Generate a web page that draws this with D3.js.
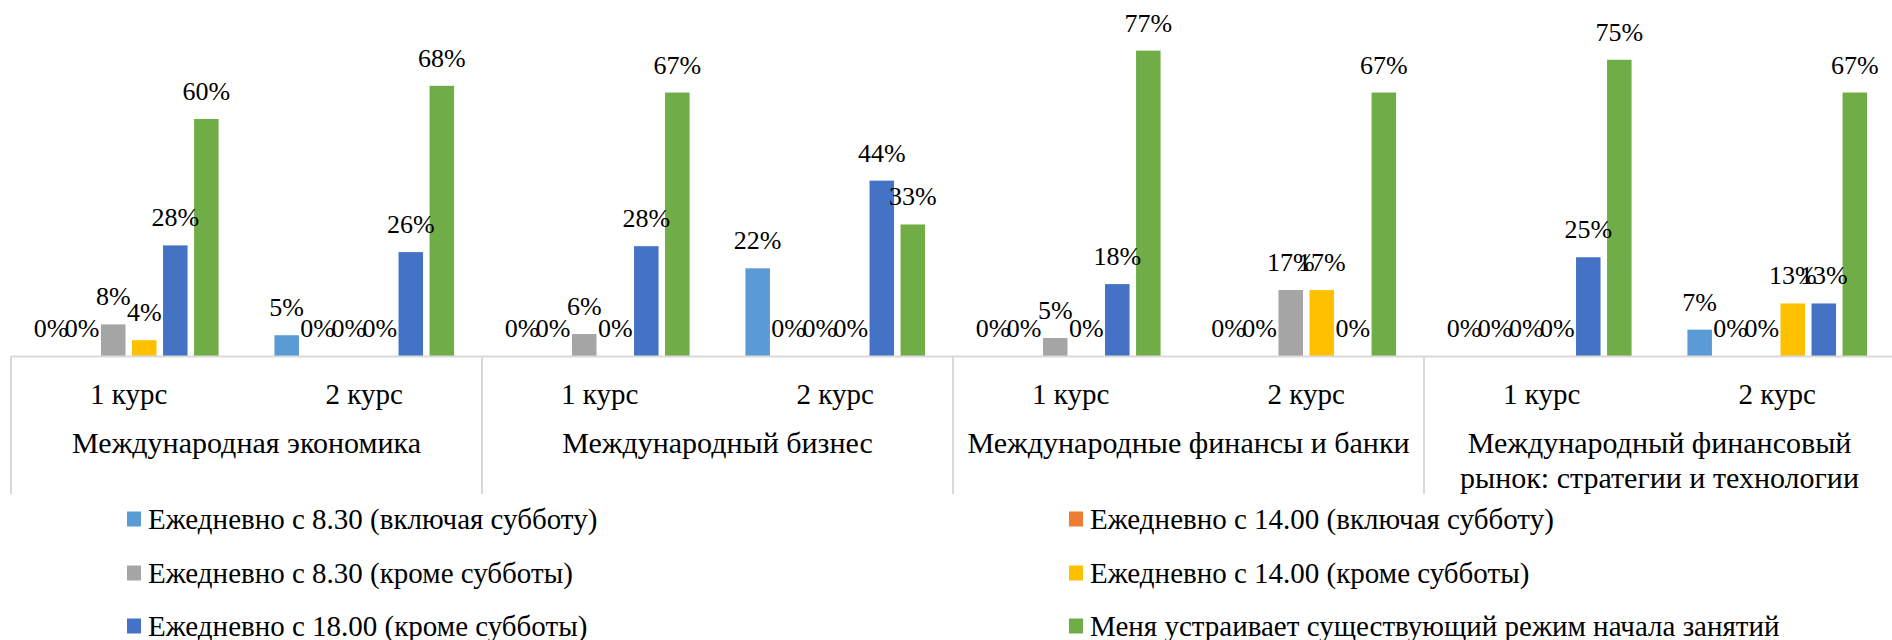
<!DOCTYPE html>
<html><head><meta charset="utf-8">
<script src="https://cdn.jsdelivr.net/npm/d3@7"></script>
<style>
body{margin:0;background:#fff}
text{font-family:'Liberation Serif','Times New Roman',serif;fill:#000}
</style>
</head><body>
<svg id="c" width="1892" height="640"></svg>
<script>
// ---- data ----
const groups = [
  "Международная экономика",
  "Международный бизнес",
  "Международные финансы и банки",
  "Международный финансовый рынок: стратегии и технологии"
];
const courses = ["1 курс", "2 курс"];
const seriesNames = [
  "Ежедневно с 8.30 (включая субботу)",
  "Ежедневно с 14.00 (включая субботу)",
  "Ежедневно с 8.30 (кроме субботы)",
  "Ежедневно с 14.00 (кроме субботы)",
  "Ежедневно с 18.00 (кроме субботы)",
  "Меня устраивает существующий режим начала занятий"
];
const seriesColors = ["#5B9BD5", "#ED7D31", "#A5A5A5", "#FFC000", "#4472C4", "#70AD47"];
// values for the 8 sub-categories (group × course), in order
const s1 = [0,    0.0526, 0,      0.222, 0,      0,     0,    0.0667];
const s2 = [0,    0,      0,      0,     0,      0,     0,    0];
const s3 = [0.08, 0,      0.0556, 0,     0.0455, 0.167, 0,    0];
const s4 = [0.04, 0,      0,      0,     0,      0.167, 0,    0.133];
const s5 = [0.28, 0.263,  0.278,  0.444, 0.182,  0,     0.25, 0.133];
const s6 = [0.60, 0.684,  0.667,  0.333, 0.773,  0.667, 0.75, 0.667];
const seriesValues = [s1, s2, s3, s4, s5, s6];

// ---- layout ----
const svg = d3.select("#c");
const left = 11, groupW = 471, base = 356;
const subKeys = [];
groups.forEach((g, gi) => courses.forEach((c, ci) => subKeys.push(gi + "|" + ci)));

const xg = d3.scaleBand().domain(groups).range([left, left + groupW * groups.length]);
const x0 = d3.scaleBand().domain(subKeys).range([left, left + groupW * groups.length]);
const x1 = d3.scaleBand().domain(d3.range(seriesNames.length))
  .range([0, x0.bandwidth()]).paddingInner(0.21).paddingOuter(0.9);
const y = d3.scaleLinear().domain([0, 1]).range([base, base - 395]);
const fmt = d3.format(".0%");

// bars
const cells = [];
subKeys.forEach((k, i) => seriesValues.forEach((vals, si) => cells.push({k, si, v: vals[i]})));

svg.append("g").selectAll("rect").data(cells.filter(d => d.v > 0)).join("rect")
  .attr("x", d => x0(d.k) + x1(d.si))
  .attr("y", d => y(d.v))
  .attr("width", x1.bandwidth())
  .attr("height", d => y(0) - y(d.v))
  .attr("fill", d => seriesColors[d.si]);

// data labels
svg.append("g").selectAll("text").data(cells).join("text")
  .attr("x", d => x0(d.k) + x1(d.si) + x1.bandwidth() / 2)
  .attr("y", d => y(d.v) - 19)
  .attr("text-anchor", "middle")
  .attr("font-size", 26)
  .text(d => fmt(d.v));

// axis: course labels
const ax = svg.append("g").attr("transform", `translate(0,${base})`)
  .call(d3.axisBottom(x0).tickSize(0).tickPadding(0).tickFormat(k => courses[+k.split("|")[1]]));
ax.select(".domain").attr("stroke", "#D9D9D9").attr("stroke-width", 2);
ax.selectAll(".tick text").attr("dy", 0).attr("y", 48).attr("font-size", 29)
  .attr("font-family", "'Liberation Serif','Times New Roman',serif").attr("fill", "#000");

// group separators
const seps = groups.map(g => xg(g)).concat([xg(groups[groups.length - 1]) + xg.bandwidth()]);
svg.append("g").selectAll("line").data(seps).join("line")
  .attr("x1", d => d).attr("x2", d => d)
  .attr("y1", base).attr("y2", 494)
  .attr("stroke", "#D9D9D9").attr("stroke-width", 2);

// group labels (wrapped)
const gl = svg.append("g").selectAll("text").data(groups).join("text")
  .attr("text-anchor", "middle").attr("font-size", 30)
  .attr("x", d => xg(d) + xg.bandwidth() / 2).attr("y", 453);
gl.each(function(d) {
  const t = d3.select(this);
  const words = d.split(" ");
  let line = [], lines = [];
  const ts = t.append("tspan");
  words.forEach(w => {
    const test = line.concat([w]).join(" ");
    ts.text(test);
    if (ts.node().getComputedTextLength() > 462 && line.length) {
      lines.push(line.join(" ")); line = [w];
    } else line.push(w);
  });
  lines.push(line.join(" "));
  ts.remove();
  lines.forEach((l, i) => t.append("tspan")
    .attr("x", xg(d) + xg.bandwidth() / 2).attr("dy", i ? 35 : 0).text(l));
});

// legend
const legX = [127, 1069], legY = [519, 573, 626];
const leg = svg.append("g").selectAll("g").data(seriesNames).join("g")
  .attr("transform", (d, i) => `translate(${legX[i % 2]},${legY[Math.floor(i / 2)]})`);
leg.append("rect").attr("x", 0).attr("y", -7.5).attr("width", 14).attr("height", 15)
  .attr("fill", (d, i) => seriesColors[i]);
leg.append("text").attr("x", 21).attr("y", 9.5).attr("font-size", 29).text(d => d);
</script>
</body></html>
